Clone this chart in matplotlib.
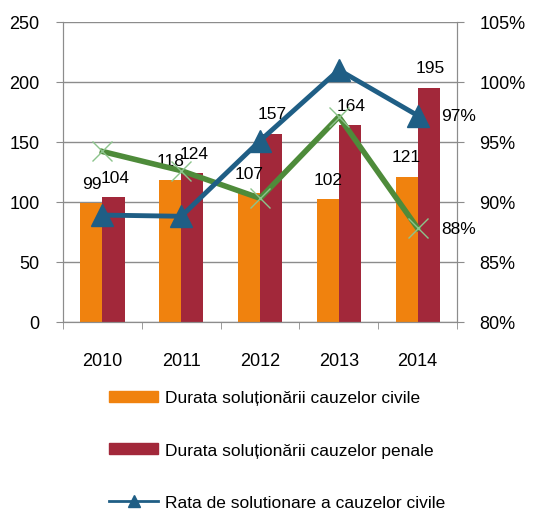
import numpy as np
import matplotlib
matplotlib.use("Agg")
import matplotlib.pyplot as plt
from matplotlib.patches import Patch
from matplotlib.lines import Line2D

plt.rcParams['font.family'] = ['Liberation Sans', 'DejaVu Sans']

# data
years = ['2010', '2011', '2012', '2013', '2014']
durata_civile = [99, 118, 107, 102, 121]
durata_penale = [104, 124, 157, 164, 195]
rata_civile = [88.9, 88.8, 95.1, 101.0, 97.2]
rata_penale = [94.2, 92.6, 90.3, 97.1, 87.8]
pct_labels = {'civile': '97%', 'penale': '88%'}

orange = '#F0820E'
red = '#A2283A'
blue = '#1F5E85'
green = '#4E8B3A'
lightgreen = '#8CC48C'
grey = '#8C8C8C'

fig = plt.figure(figsize=(5.39, 5.10), dpi=100)
ax = fig.add_axes([0.117, 0.367, 0.731, 0.588])
x = np.arange(len(years))
w = 0.28

ax.bar(x - w/2, durata_civile, w, color=orange, zorder=2)
ax.bar(x + w/2, durata_penale, w, color=red, zorder=2)

# bar value labels
for xi, v in zip(x - w/2, durata_civile):
    ax.annotate(str(v), (xi, v), xytext=(0, 9), textcoords='offset points',
                ha='center', va='bottom', fontsize=12.5)
for xi, v in zip(x + w/2, durata_penale):
    ax.annotate(str(v), (xi, v), xytext=(1, 9), textcoords='offset points',
                ha='center', va='bottom', fontsize=12.5)

ax.set_ylim(0, 250)
ax.set_yticks(range(0, 251, 50))
ax.set_xlim(-0.5, len(years) - 0.5)
ax.set_xticks(x)
ax.set_xticklabels(years)
ax.set_xticks(np.arange(-0.5, len(years), 1), minor=True)
ax.grid(axis='y', color=grey, linewidth=1, zorder=0)
ax.tick_params(axis='x', which='major', length=0, pad=22, labelsize=13)
ax.tick_params(axis='x', which='minor', length=5, color=grey, direction='out')
ax.tick_params(axis='y', length=5, color=grey, pad=12, labelsize=13)

ax.spines['top'].set_visible(False)
for s in ['left', 'bottom', 'right']:
    ax.spines[s].set_color(grey)

ax2 = ax.twinx()
ax2.set_ylim(80, 105)
ax2.set_yticks(range(80, 106, 5))
ax2.set_yticklabels([f'{t}%' for t in range(80, 106, 5)])
ax2.tick_params(axis='y', length=5, color=grey, pad=11, labelsize=13)
ax2.spines['top'].set_visible(False)
for s in ['left', 'bottom', 'right']:
    ax2.spines[s].set_color(grey)

ax2.plot(x, rata_penale, color=green, linewidth=4, zorder=3)
ax2.plot(x, rata_penale, linestyle='none', marker='x', markersize=15,
         markeredgewidth=1, color=lightgreen, zorder=4)
ax2.plot(x, rata_civile, color=blue, linewidth=3.5, marker='^',
         markersize=16, zorder=5)

ax2.annotate(pct_labels['civile'], (x[-1], rata_civile[-1]), xytext=(17, 0),
             textcoords='offset points', ha='left', va='center', fontsize=12.5)
ax2.annotate(pct_labels['penale'], (x[-1], rata_penale[-1]), xytext=(17, 0),
             textcoords='offset points', ha='left', va='center', fontsize=12.5)

handles = [Patch(color=orange), Patch(color=red),
           Line2D([], [], color=blue, linewidth=2, marker='^', markersize=8)]
labels = ['Durata soluționării cauzelor civile',
          'Durata soluționării cauzelor penale',
          'Rata de solutionare a cauzelor civile']
fig.legend(handles, labels, loc='upper left', bbox_to_anchor=(0.19, 0.246),
           frameon=False, fontsize=12.5, handlelength=2.8, handleheight=0.6,
           labelspacing=2.15, handletextpad=0.4, borderaxespad=0)

fig.savefig('out.png', dpi=100)
